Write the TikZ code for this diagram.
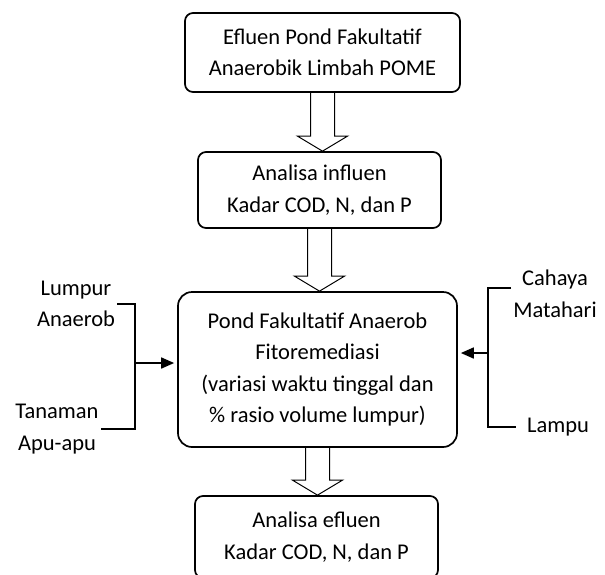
\documentclass[tikz,border=0pt]{standalone}
\usepackage{fontspec}
\setmainfont{Carlito}
\usetikzlibrary{arrows.meta,calc}
% hollow block arrow from the bottom of one box to the top of the next
\newcommand{\hollowarrow}[2]{%
  \draw[hollow] let \p1=(#1.south), \p2=(#2.north) in
    (\x1-12pt,\y1) -- (\x1-12pt,\y2+15pt) -- (\x1-25pt,\y2+15pt) -- (\x1,\y2)
    -- (\x1+25pt,\y2+15pt) -- (\x1+12pt,\y2+15pt) -- (\x1+12pt,\y1);}
\begin{document}
\begin{tikzpicture}[x=1pt,y=-1pt,font=\fontsize{22.5}{31.5}\selectfont,
    box/.style={draw,line width=1.7pt,rounded corners=8pt,align=center,inner sep=0pt},
    lbl/.style={align=center,inner sep=2pt},
    hollow/.style={line width=1pt,line join=miter},
    link/.style={line width=1.7pt},
    tip/.style={-{Triangle[length=13pt,width=11pt]},shorten >=3pt}]
    \useasboundingbox (0,0) rectangle (605,574);
    \path (322.5,52.5) node[box,minimum width=275pt,minimum height=79pt](efluen){Efluen Pond Fakultatif\\Anaerobik Limbah POME};
    \path (319.5,190) node[box,minimum width=243pt,minimum height=76pt](influen){Analisa influen\\Kadar COD, N, dan P};
    \path (317.5,369.5) node[box,rounded corners=14pt,minimum width=279pt,minimum height=155pt](pond){Pond Fakultatif Anaerob\\Fitoremediasi\\(variasi waktu tinggal dan\\\% rasio volume lumpur)};
    \path (316.5,537) node[box,minimum width=243pt,minimum height=82pt](hasil){Analisa efluen\\Kadar COD, N, dan P};
    \hollowarrow{efluen}{influen}
    \hollowarrow{influen}{pond}
    \hollowarrow{pond}{hasil}

    % inputs on the left
    \path (76,304) node[lbl](lumpur){Lumpur\\Anaerob} (57,429) node[lbl](tanaman){Tanaman\\Apu-apu};
    \coordinate (ljoin) at (135,363);
    \draw[link] (lumpur.east) -| (ljoin) |- (tanaman.east);
    \draw[link,tip] (ljoin) -- (pond.west |- ljoin);

    % light sources on the right
    \path (555,294) node[lbl](cahaya){Cahaya\\Matahari} (558,427) node[lbl](lampu){Lampu};
    \coordinate (rjoin) at (488,353);
    \draw[link] ([yshift=6pt]cahaya.west) -| (rjoin) |- ([xshift=-9pt]lampu.west);
    \draw[link,tip] (rjoin) -- (pond.east |- rjoin);
\end{tikzpicture}
\end{document}
